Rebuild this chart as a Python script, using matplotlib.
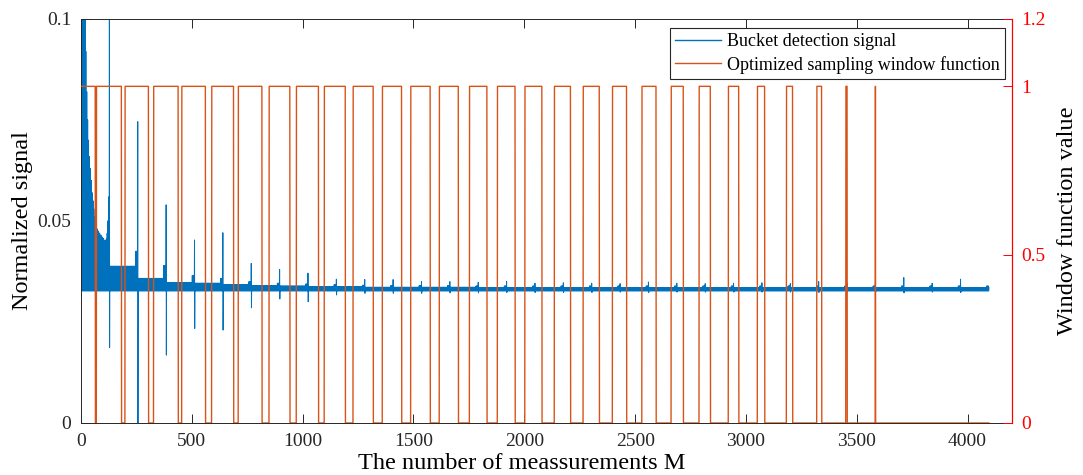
import numpy as np
import matplotlib
matplotlib.use("Agg")
import matplotlib.pyplot as plt
from matplotlib.lines import Line2D

plt.rcParams['font.family'] = ['Liberation Serif', 'DejaVu Serif']

N_TOTAL = 4096
BLOCK = 128

# upper edge of the noise band over the first block (sample index -> level)
head_m = [1, 16, 20, 24, 28, 32, 36, 40, 44, 48, 52, 56, 60, 64, 68, 72, 76,
          80, 86, 92, 98, 104, 110, 114, 117, 120, 123, 126]
head_top = [0.100, 0.100, 0.092, 0.082, 0.075, 0.070, 0.066, 0.063, 0.060,
            0.057, 0.055, 0.053, 0.051, 0.050, 0.049, 0.048, 0.0475, 0.0470,
            0.0465, 0.0460, 0.0457, 0.0452, 0.0448, 0.0455, 0.0470, 0.0500,
            0.0540, 0.0560]

# upper edge of the band in blocks 1..32
band_top = [0.0388, 0.0358, 0.0348, 0.0346, 0.0342, 0.0340, 0.0339, 0.0337,
            0.0337, 0.0336, 0.0336, 0.0336, 0.0336, 0.0335, 0.0335, 0.0335,
            0.0335, 0.0335, 0.0335, 0.0335, 0.0335, 0.0335, 0.0335, 0.0335,
            0.0335, 0.0335, 0.0335, 0.0335, 0.0335, 0.0335, 0.0335, 0.0335]
# level reached just before the next spike in blocks 1..31
hook_top = [0.0425, 0.0390, 0.0365, 0.0358, 0.0350, 0.0346, 0.0344, 0.0342,
            0.0341, 0.0340, 0.0340, 0.0340, 0.0339, 0.0339, 0.0339, 0.0339,
            0.0339, 0.0339, 0.0339, 0.0339, 0.0339, 0.0339, 0.0339, 0.0339,
            0.0339, 0.0339, 0.0339, 0.0339, 0.0339, 0.0339, 0.0339]
band_low = 0.0327

# spikes at M = 128, 256, ..., 3968
spike_up = [0.120, 0.0746, 0.0540, 0.0453, 0.0471, 0.0395, 0.0380, 0.0371,
            0.0356, 0.0355, 0.0355, 0.0350, 0.0350, 0.0348, 0.0350, 0.0346,
            0.0347, 0.0346, 0.0345, 0.0349, 0.0346, 0.0345, 0.0346, 0.0347,
            0.0345, 0.0350, 0.0346, 0.0345, 0.0360, 0.0346, 0.0356]
spike_down = [0.0187, 0.0000, 0.0168, 0.0234, 0.0230, 0.0285, 0.0307, 0.0300,
              0.0317, 0.0321, 0.0321, 0.0321, 0.0322, 0.0322, 0.0323, 0.0323,
              0.0323, 0.0323, 0.0324, 0.0323, 0.0324, 0.0324, 0.0324, 0.0324,
              0.0324, 0.0323, 0.0324, 0.0324, 0.0322, 0.0324, 0.0323]

# sampling window: samples where the window is open
win_start = [1, 70, 199, 328, 455, 590, 710, 849, 972, 1098, 1228, 1360, 1488,
             1617, 1753, 1879, 2003, 2136, 2266, 2398, 2531, 2663, 2789, 2921,
             3052, 3183, 3320, 3451, 3584]
win_end = [64, 182, 304, 438, 561, 688, 816, 942, 1071, 1192, 1318, 1446, 1575,
           1702, 1831, 1958, 2079, 2208, 2338, 2461, 2594, 2717, 2839, 2967,
           3084, 3210, 3341, 3456, 3584]

m = np.arange(1, N_TOTAL + 1)

# upper envelope of the detection signal
top = np.zeros(N_TOTAL)
for start, val in zip(head_m, head_top):
    top[m >= start] = val
for k, val in enumerate(band_top, start=1):
    top[(m >= k * BLOCK) & (m < (k + 1) * BLOCK)] = val
for k, val in enumerate(hook_top, start=1):
    top[(m >= (k + 1) * BLOCK - 10) & (m < (k + 1) * BLOCK)] = val

signal = np.where(m % 2 == 0, top, band_low)
for k, (up, down) in enumerate(zip(spike_up, spike_down), start=1):
    signal[k * BLOCK - 1] = up
    signal[k * BLOCK] = down

window = np.zeros(N_TOTAL)
for a, b in zip(win_start, win_end):
    window[(m >= a) & (m <= b)] = 1.0

blue = '#0072BD'
orange = '#D95319'
dark = '#262626'

fig = plt.figure(figsize=(10.83, 4.75), dpi=100)
ax = fig.add_axes([0.0748, 0.1095, 0.8596, 0.8505])
ax2 = ax.twinx()

ax.plot(m, signal, color=blue, lw=0.7)
ax2.plot(m, window, color=orange, lw=1.0)

ax.set_xlim(0, 4200)
ax.set_ylim(0, 0.1)
ax2.set_ylim(0, 1.2)

ax.set_xticks(np.arange(0, 4001, 500))
ax.set_yticks([0, 0.05, 0.1])
ax.set_yticklabels(['0', '0.05', '0.1'])
ax2.set_yticks([0, 0.5, 1, 1.2])
ax2.set_yticklabels(['0', '0.5', '1', '1.2'])

ax.tick_params(axis='both', direction='in', length=6.5, width=0.7,
               labelsize=14, colors=dark, top=True, pad=7)
ax.tick_params(axis='y', right=False)
ax2.tick_params(axis='y', direction='in', length=6.5, width=0.7,
                labelsize=14, colors='red', pad=7)

for name in ['left', 'top', 'bottom']:
    ax.spines[name].set_color(dark)
    ax.spines[name].set_linewidth(0.7)
ax.spines['right'].set_visible(False)
for name in ['left', 'top', 'bottom']:
    ax2.spines[name].set_visible(False)
ax2.spines['right'].set_color('red')
ax2.spines['right'].set_linewidth(0.9)

ax.set_xlabel('The number of meassurements M', fontsize=17.5)
ax.xaxis.set_label_coords(0.473, -0.075)
ax.set_ylabel('Normalized signal', fontsize=17.5, labelpad=3)
ax2.set_ylabel('Window function value', fontsize=17.5, labelpad=8)

handles = [Line2D([], [], color=blue, lw=1.0), Line2D([], [], color=orange, lw=1.0)]
leg = ax2.legend(handles, ['Bucket detection signal', 'Optimized sampling window function'],
                 loc='upper right', bbox_to_anchor=(0.9925, 0.978), fontsize=13,
                 frameon=True, fancybox=False, framealpha=1, edgecolor=dark,
                 borderpad=0.3, labelspacing=0.3, handlelength=2.55,
                 handletextpad=0.3, borderaxespad=0)
leg.get_frame().set_linewidth(0.8)

fig.savefig('out.png', dpi=100)
